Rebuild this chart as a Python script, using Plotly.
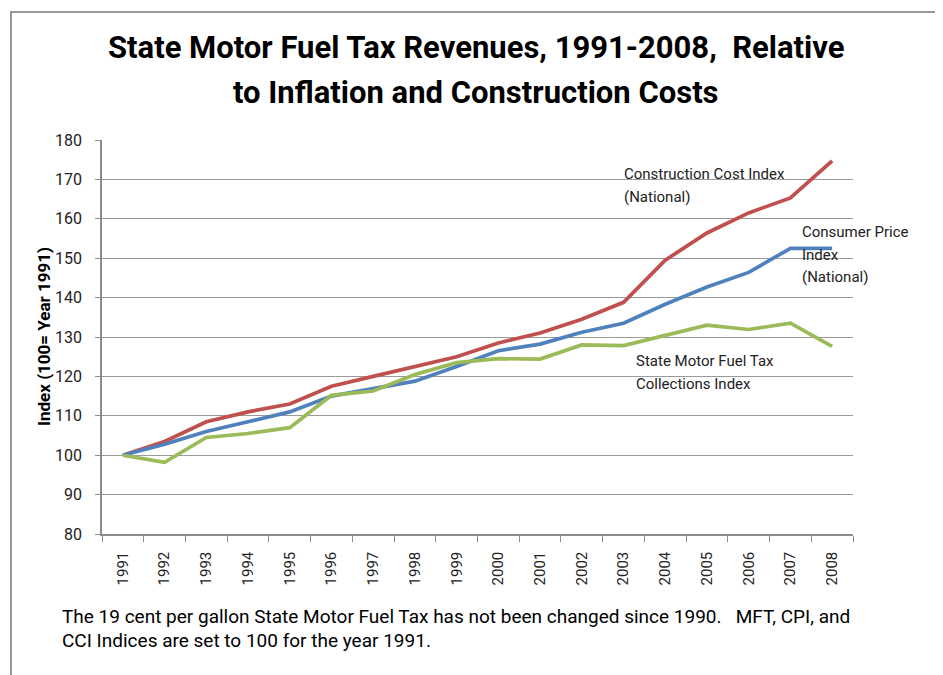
import plotly.graph_objects as go

years = [str(y) for y in range(1991, 2009)]
cci = [100, 103.5, 108.5, 111, 113, 117.5, 120, 122.5, 125, 128.5, 131, 134.5, 138.8, 149.5, 156.4, 161.5, 165.3, 174.7]
cpi = [100, 102.8, 106, 108.5, 111, 115, 117, 118.8, 122.5, 126.5, 128.2, 131.2, 133.5, 138.3, 142.7, 146.4, 152.5, 152.5]
mft = [100, 98.2, 104.5, 105.5, 107, 115.2, 116.3, 120.5, 123.5, 124.5, 124.4, 128, 127.8, 130.5, 133, 131.9, 133.5, 127.6]

title_lines = ["State Motor Fuel Tax Revenues, 1991-2008,  Relative",
               "to Inflation and Construction Costs"]
y_title = "Index (100= Year 1991)"
footer_lines = ["The 19 cent per gallon State Motor Fuel Tax has not been changed since 1990.   MFT, CPI, and",
                "CCI Indices are set to 100 for the year 1991."]
cci_label = ["Construction Cost Index", "(National)"]
cpi_label = ["Consumer Price", "Index", "(National)"]
mft_label = ["State Motor Fuel Tax", "Collections Index"]

FONT = "Roboto, Arial"
OFF = 8  # browser body margin

W, H = 943, 675
# plot area in screenshot coordinates
SL, SR, ST, SB = 102, 853, 140, 534
L, R, T, B = SL - OFF, SR - OFF, ST - OFF, SB - OFF

fig = go.Figure()
for name, vals, col in [("Construction Cost Index (National)", cci, "#C0504D"),
                        ("Consumer Price Index (National)", cpi, "#4F81BD"),
                        ("State Motor Fuel Tax Collections Index", mft, "#9BBB59")]:
    fig.add_trace(go.Scatter(x=years, y=vals, mode="lines", name=name,
                             line=dict(color=col, width=3.7)))

fig.update_layout(
    width=W, height=H,
    margin=dict(l=L, r=W - R, t=T, b=H - B),
    paper_bgcolor="white", plot_bgcolor="white",
    showlegend=False,
    font=dict(family=FONT, size=14, color="#222"),
)
fig.update_xaxes(type="category", range=[-0.5, 17.5], tickangle=-90,
                 showline=True, linecolor="#8c8c8c", linewidth=1.5,
                 ticks="outside", tickson="boundaries", ticklen=6, tickcolor="#8c8c8c",
                 ticklabelstandoff=10,
                 showgrid=False, tickfont=dict(size=15, color="#222"))
fig.update_yaxes(range=[80, 180], dtick=10, showline=True, linecolor="#8c8c8c", linewidth=1.5,
                 ticks="outside", ticklen=5, tickcolor="#8c8c8c", ticklabelstandoff=10,
                 gridcolor="#9a9a9a", gridwidth=1.2, tickfont=dict(size=16, color="#222"),
                 zeroline=False)

pw, ph = R - L, B - T
def px(x):  # screenshot x -> paper
    return (x - OFF - L) / pw
def py(y):  # screenshot y -> paper
    return (B - (y - OFF)) / ph

# outer frame
fig.add_shape(type="rect", xref="paper", yref="paper", layer="below",
              x0=px(11), x1=px(W + 30), y0=py(H + 30), y1=py(12),
              line=dict(color="#999999", width=2), fillcolor="rgba(0,0,0,0)")

def lines(texts, x, y0, dy, size, anchor="left", bold=False, color="#222"):
    for i, t in enumerate(texts):
        fig.add_annotation(text=("<b>" + t + "</b>") if bold else t,
                           xref="paper", yref="paper", x=px(x), y=py(y0 + i * dy),
                           xanchor=anchor, yanchor="middle", showarrow=False,
                           font=dict(family=FONT, size=size, color=color))

lines(title_lines, 476, 48, 44, 31, anchor="center", bold=True, color="black")

fig.add_annotation(text="<b>" + y_title + "</b>", xref="paper", yref="paper",
                   x=px(32), y=py(337), textangle=-90, showarrow=False,
                   font=dict(family=FONT, size=17, color="black"))

lines(cci_label, 622, 174, 23, 15)
lines(cpi_label, 800, 232, 22.5, 15)
lines(mft_label, 634, 361, 22.5, 15)
lines(footer_lines, 60, 616, 24, 19, color="black")

fig.write_html("out.html")
